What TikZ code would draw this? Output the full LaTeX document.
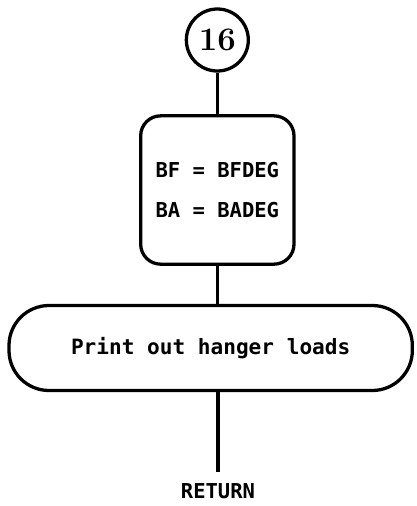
\documentclass[tikz,border=0pt]{standalone}
\usepackage{fontspec}
\setmonofont{DejaVu Sans Mono}
\begin{document}
\begin{tikzpicture}[x=1cm,y=1cm]
\tikzset{
  flowline/.style={line width=2.8pt},
  connector/.style={circle,draw,line width=2.8pt,minimum size=1.86cm,inner sep=0pt,font=\fontsize{28}{30}\selectfont\bfseries},
  procbox/.style={rectangle,draw,line width=2.8pt,rounded corners=0.6cm,minimum width=4.6cm,minimum height=4.45cm,align=center,font=\ttfamily\bfseries\fontsize{17.5}{34}\selectfont},
  terminal/.style={rectangle,draw,line width=2.8pt,rounded corners=1.2cm,minimum width=12.1cm,minimum height=2.55cm,font=\ttfamily\bfseries\fontsize{18}{20}\selectfont},
  label/.style={font=\ttfamily\bfseries\fontsize{17.5}{20}\selectfont}
}
\useasboundingbox (0,0) rectangle (12.51,-15.18);
\node[connector] (n_16) at (6.52,-1.2) {16};
\node[procbox] (n_assign) at (6.52,-5.7) {BF = BFDEG\\BA = BADEG};
\node[terminal] (n_print) at (6.32,-10.44) {Print out hanger loads};
\coordinate (c_ret) at (6.54,-14.16);
\node[label] (n_return) at (6.54,-14.72) {RETURN};
\draw[flowline] (n_16) -- (n_assign);
\draw[flowline] (n_assign.south) -- (n_assign.south |- n_print.north);
\draw[flowline] (c_ret |- n_print.south) -- (c_ret);
\end{tikzpicture}
\end{document}
